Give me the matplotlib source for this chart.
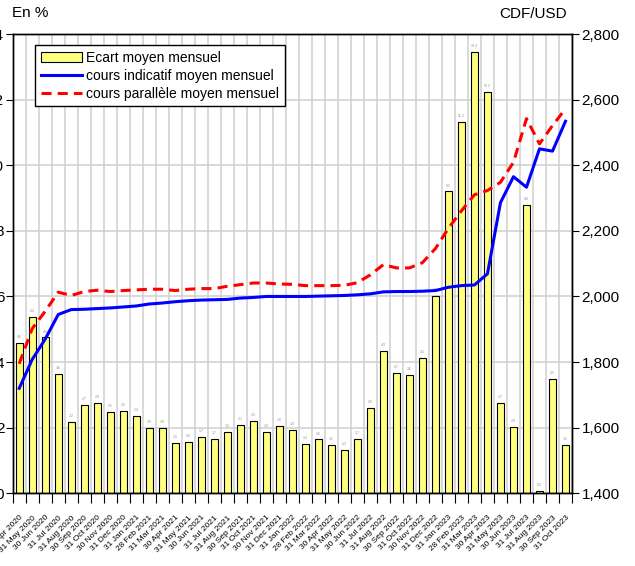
import matplotlib
matplotlib.use('Agg')
import matplotlib.pyplot as plt
import numpy as np
from matplotlib.patches import Patch
from matplotlib.lines import Line2D

plt.rcParams['font.family'] = ['Liberation Sans', 'DejaVu Sans']

months = [
    "30 Apr 2020", "31 May 2020", "30 Jun 2020", "31 Jul 2020", "31 Aug 2020",
    "30 Sep 2020", "31 Oct 2020", "30 Nov 2020", "31 Dec 2020",
    "31 Jan 2021", "28 Feb 2021", "31 Mar 2021", "30 Apr 2021", "31 May 2021",
    "30 Jun 2021", "31 Jul 2021", "31 Aug 2021", "30 Sep 2021", "31 Oct 2021",
    "30 Nov 2021", "31 Dec 2021",
    "31 Jan 2022", "28 Feb 2022", "31 Mar 2022", "30 Apr 2022", "31 May 2022",
    "30 Jun 2022", "31 Jul 2022", "31 Aug 2022", "30 Sep 2022", "31 Oct 2022",
    "30 Nov 2022", "31 Dec 2022",
    "31 Jan 2023", "28 Feb 2023", "31 Mar 2023", "30 Apr 2023", "31 May 2023",
    "30 Jun 2023", "31 Jul 2023", "31 Aug 2023", "30 Sep 2023", "31 Oct 2023",
]

# Ecart moyen mensuel (%)
ecart = [4.58, 5.38, 4.75, 3.63, 2.16, 2.70, 2.76, 2.48, 2.50, 2.37,
         1.99, 1.98, 1.52, 1.56, 1.71, 1.67, 1.86, 2.08, 2.20, 1.88,
         2.04, 1.94, 1.49, 1.64, 1.46, 1.33, 1.67, 2.59, 4.34, 3.68,
         3.62, 4.13, 6.01, 9.20, 11.32, 13.44, 12.22, 2.74, 2.01, 8.79,
         0.06, 3.48, 1.46]

# cours indicatif moyen mensuel (CDF/USD)
officiel = [1720, 1808, 1870, 1945, 1960, 1961, 1963, 1965, 1968, 1971,
            1977, 1980, 1984, 1987, 1989, 1990, 1991, 1995, 1997, 2000,
            2000, 2000, 2000, 2001, 2002, 2003, 2005, 2008, 2014, 2015,
            2015, 2016, 2018, 2028, 2033, 2035, 2069, 2286, 2365, 2333,
            2450, 2443, 2534]

# cours parallele moyen mensuel (CDF/USD)
parallele = [1795, 1902, 1955, 2013, 2003, 2015, 2019, 2015, 2018, 2020,
             2022, 2022, 2018, 2022, 2024, 2024, 2031, 2036, 2041, 2041,
             2038, 2037, 2033, 2033, 2033, 2034, 2042, 2066, 2097, 2087,
             2087, 2103, 2146, 2208, 2261, 2310, 2323, 2348, 2409, 2542,
             2465, 2521, 2572]

left_ticks = [0, 2, 4, 6, 8, 10, 12, 14]
right_ticks = [1400, 1600, 1800, 2000, 2200, 2400, 2600, 2800]

W, H = 635, 566
fig = plt.figure(figsize=(W / 100, H / 100), dpi=100)
x0, x1, ytop, ybot = 12.7, 572.0, 34.0, 493.3
ax = fig.add_axes([x0 / W, 1 - ybot / H, (x1 - x0) / W, (ybot - ytop) / H])

n = len(months)
x = np.arange(n)
grid_c = '#d0d0d0'

ax.bar(x, ecart, width=0.56, color='#ffff80', edgecolor='black',
       linewidth=0.8, zorder=2)
for xi, v in zip(x, ecart):
    ax.text(xi, v + 0.12, f"{v:.1f}", fontsize=2.5, color='#909090',
            ha='center', va='bottom', zorder=3)

ax.set_xlim(-0.5, n - 0.5)
ax.set_ylim(0, 14)
ax.set_yticks(left_ticks)
ax.set_yticklabels([str(t) for t in left_ticks], fontsize=11)
ax.tick_params(axis='y', length=5, width=0.8, pad=1)

ax.set_xticks(np.arange(n + 1) - 0.5)
ax.set_xticklabels([])
ax.tick_params(axis='x', which='major', length=7, width=0.8, direction='out')
ax.set_xticks(x, minor=True)
ax.set_xticklabels(months, minor=True, fontsize=6, rotation=45,
                   ha='right', va='top', rotation_mode='anchor')
ax.tick_params(axis='x', which='minor', length=0, pad=15)

ax.set_axisbelow(True)
ax.grid(True, which='major', axis='both', color=grid_c, linewidth=1.1)

for s in ax.spines.values():
    s.set_linewidth(1.0)

ax2 = ax.twinx()
ax2.plot(x, officiel, color='#0000ff', linewidth=2.2, zorder=4)
ax2.plot(x, parallele, color='#ff0000', linewidth=2.2, dashes=(3.3, 2.0),
         zorder=5)
ax2.set_ylim(1400, 2800)
ax2.set_yticks(right_ticks)
ax2.set_yticklabels([f"{t:,}" for t in right_ticks], fontsize=11)
ax2.tick_params(axis='y', length=5, width=0.8, pad=2)
for s in ax2.spines.values():
    s.set_linewidth(1.0)

handles = [
    Patch(facecolor='#ffff80', edgecolor='black', linewidth=0.8),
    Line2D([], [], color='#0000ff', linewidth=2.2),
    Line2D([], [], color='#ff0000', linewidth=2.2, dashes=(3.3, 2.0)),
]
labels = ["Ecart moyen mensuel", "cours indicatif moyen mensuel",
          "cours parallèle moyen mensuel"]
leg = ax2.legend(handles, labels, loc='upper left',
                 bbox_to_anchor=(0.04, 0.976), borderaxespad=0,
                 fontsize=10, frameon=True, fancybox=False,
                 edgecolor='black', framealpha=1, handlelength=3.0,
                 handletextpad=0.3, labelspacing=0.3, borderpad=0.4)
leg.get_frame().set_linewidth(1.0)

fig.text(12 / W, 1 - 13 / H, "En %", fontsize=11, ha='left', va='center')
fig.text(567 / W, 1 - 14 / H, "CDF/USD", fontsize=11, ha='right', va='center')

fig.savefig('out.png', dpi=100)
